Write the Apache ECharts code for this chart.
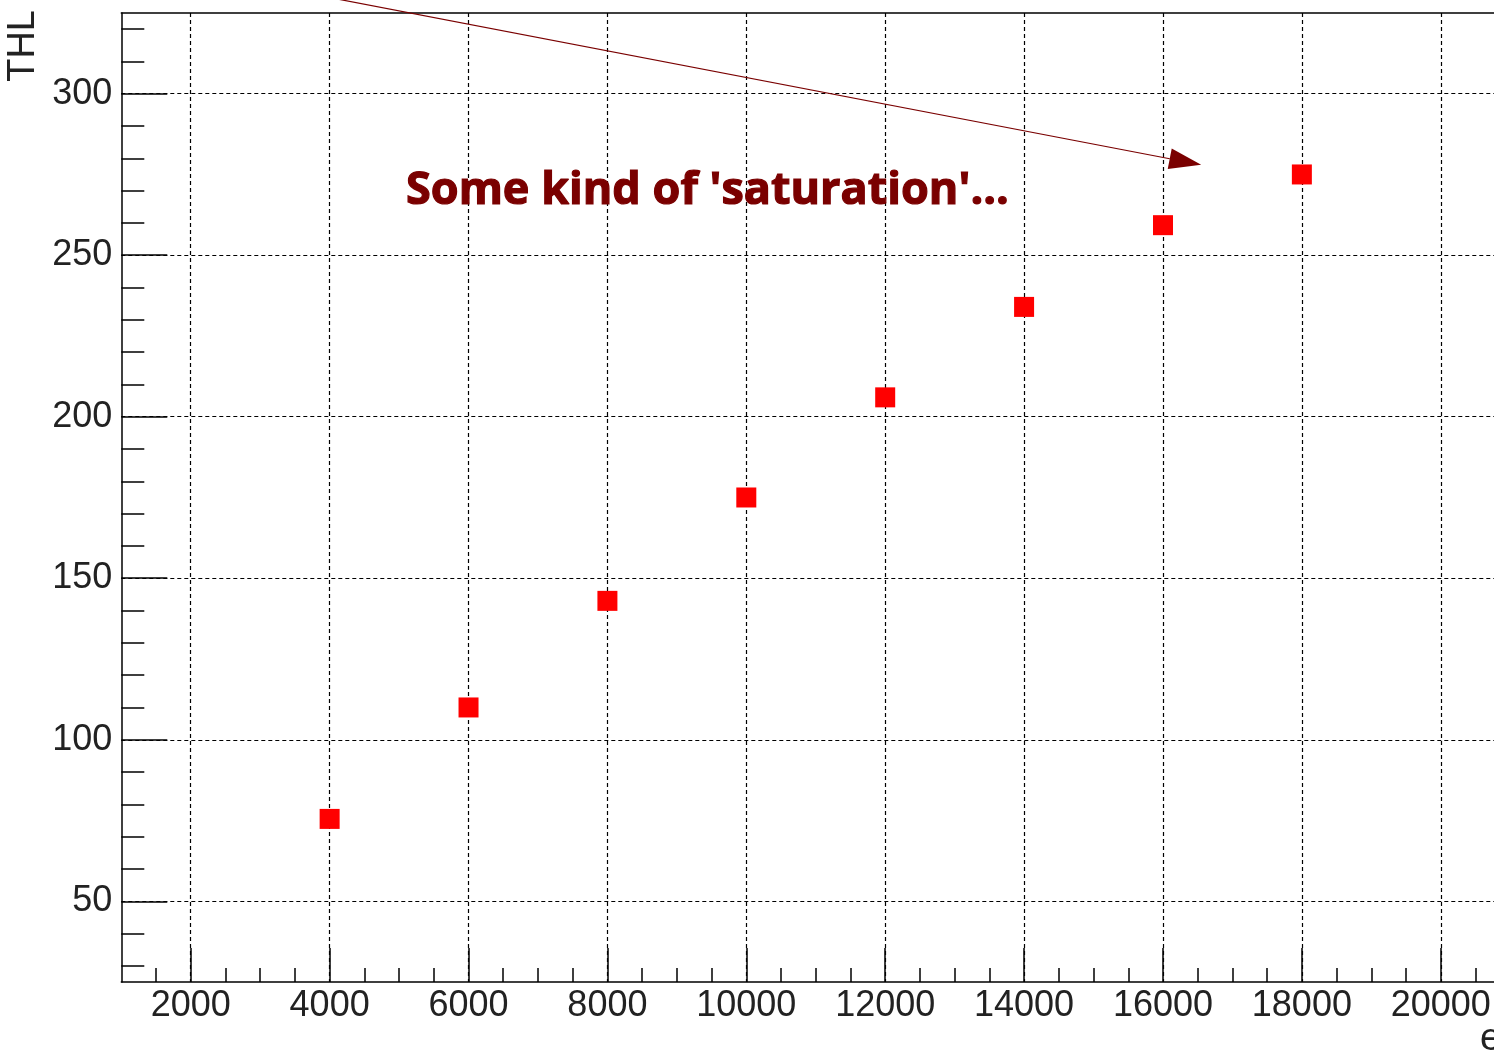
<!DOCTYPE html>
<html>
<head>
<meta charset="utf-8">
<script src="https://cdn.jsdelivr.net/npm/echarts@6/dist/echarts.min.js"></script>
<style>
  html, body { margin: 0; padding: 0; background: #fff; }
  #chart { width: 1494px; height: 1056px; }
</style>
</head>
<body>
<div id="chart"></div>
<script>
// Measured threshold (THL) versus injected charge (electrons)
const electrons = [4000, 6000, 8000, 10000, 12000, 14000, 16000, 18000];
const thl = [75.5, 110, 143, 175, 206, 234, 259.3, 275];

// Axis tick positions
const xMajorTicks = [2000, 4000, 6000, 8000, 10000, 12000, 14000, 16000, 18000, 20000];
const xMinorTicks = [1500, 2500, 3000, 3500, 4500, 5000, 5500, 6500, 7000, 7500, 8500, 9000, 9500,
  10500, 11000, 11500, 12500, 13000, 13500, 14500, 15000, 15500, 16500, 17000, 17500,
  18500, 19000, 19500, 20500];
const yMajorTicks = [50, 100, 150, 200, 250, 300];
const yMinorTicks = [30, 40, 60, 70, 80, 90, 110, 120, 130, 140, 160, 170, 180, 190,
  210, 220, 230, 240, 260, 270, 280, 290, 310, 320];

// Annotation (data coordinates)
const noteText = "Some kind of 'saturation'...";
const notePos = [5100, 269.8];
const arrowFrom = [3700, 331];
const arrowTo = [16550, 278];

const X_RANGE = [1000, 21000];
const Y_RANGE = [25, 325];
const labelFont = 'Liberation Sans';
const frameLine = { color: '#000', width: 1.5 };
const gridLine = { color: '#000', width: 1.2, type: [4, 3] };

const chart = echarts.init(document.getElementById('chart'), null, { renderer: 'canvas' });

function baseAxis(range) {
  return {
    type: 'value', min: range[0], max: range[1], scale: true,
    axisLine: { show: false, onZero: false },
    axisTick: { show: false },
    axisLabel: { show: false },
    splitLine: { show: false }
  };
}

const plainNumber = v => String(v);

const option = {
  animation: false,
  backgroundColor: '#fff',
  grid: { left: 121.3, top: 12.94, width: 1388.9, height: 969.1, outerBoundsMode: 'none', containLabel: false },
  xAxis: [
    Object.assign(baseAxis(X_RANGE), {
      position: 'bottom',
      axisLine: { show: true, onZero: false, lineStyle: frameLine },
      axisTick: { show: true, inside: true, length: 34, customValues: xMajorTicks, lineStyle: frameLine },
      axisLabel: { show: true, customValues: xMajorTicks, formatter: plainNumber, fontFamily: labelFont, fontSize: 36, color: '#222', margin: 6 },
      splitLine: { show: true, lineStyle: gridLine }
    }),
    Object.assign(baseAxis(X_RANGE), {
      position: 'bottom', offset: 0,
      axisTick: { show: true, inside: true, length: 14, customValues: xMinorTicks, lineStyle: frameLine }
    }),
    Object.assign(baseAxis(X_RANGE), {
      position: 'top', offset: 0,
      axisLine: { show: true, onZero: false, lineStyle: frameLine }
    })
  ],
  yAxis: [
    Object.assign(baseAxis(Y_RANGE), {
      position: 'left',
      axisLine: { show: true, onZero: false, lineStyle: frameLine },
      axisTick: { show: true, inside: true, length: 46, customValues: yMajorTicks, lineStyle: frameLine },
      axisLabel: { show: true, customValues: yMajorTicks, formatter: plainNumber, fontFamily: labelFont, fontSize: 36, color: '#222', margin: 9 },
      splitLine: { show: true, lineStyle: gridLine }
    }),
    Object.assign(baseAxis(Y_RANGE), {
      position: 'left', offset: 0,
      axisTick: { show: true, inside: true, length: 23, customValues: yMinorTicks, lineStyle: frameLine }
    })
  ],
  series: [{
    type: 'scatter',
    xAxisIndex: 0, yAxisIndex: 0,
    symbol: 'rect', symbolSize: 20,
    itemStyle: { color: '#ff0000', opacity: 1 },
    silent: true,
    data: electrons.map((x, i) => [x, thl[i]])
  }]
};

chart.setOption(option);

// Annotation arrow and text placed through the series' coordinate system
const finder = { seriesIndex: 0 };
const p0 = chart.convertToPixel(finder, arrowFrom);
const p1 = chart.convertToPixel(finder, arrowTo);
const dx = p1[0] - p0[0], dy = p1[1] - p0[1];
const len = Math.hypot(dx, dy);
const ux = dx / len, uy = dy / len;
const headLen = 32, headHalf = 10.5;
const bx = p1[0] - ux * headLen, by = p1[1] - uy * headLen;
const nx = -uy, ny = ux;
const tp = chart.convertToPixel(finder, notePos);

chart.setOption({
  graphic: [
    {
      type: 'line', z: 50, silent: true,
      shape: { x1: p0[0], y1: p0[1], x2: bx, y2: by },
      style: { stroke: '#7a0000', lineWidth: 1.2 }
    },
    {
      type: 'polygon', z: 50, silent: true,
      shape: { points: [[p1[0], p1[1]], [bx + nx * headHalf, by + ny * headHalf], [bx - nx * headHalf, by - ny * headHalf]] },
      style: { fill: '#7a0000' }
    },
    {
      type: 'text', z: 50, silent: true,
      x: tp[0], y: tp[1],
      style: {
        text: noteText, fill: '#7a0000', stroke: '#7a0000', lineWidth: 1.2,
        font: 'bold 45px "Open Sans"',
        align: 'left', verticalAlign: 'middle',
        textShadowColor: 'rgba(0,0,0,0.85)', textShadowOffsetX: 2, textShadowOffsetY: 2, textShadowBlur: 0
      }
    },
    {
      type: 'text', silent: true,
      x: 24, y: 10, rotation: Math.PI / 2,
      style: { text: 'THL', fill: '#222', font: '38px "Liberation Sans"', align: 'right', verticalAlign: 'middle' }
    },
    {
      type: 'text', silent: true,
      x: 1480, y: 1040,
      style: { text: 'e⁻', fill: '#222', font: '38px "Liberation Sans"', align: 'left', verticalAlign: 'middle' }
    }
  ]
});
</script>
</body>
</html>
